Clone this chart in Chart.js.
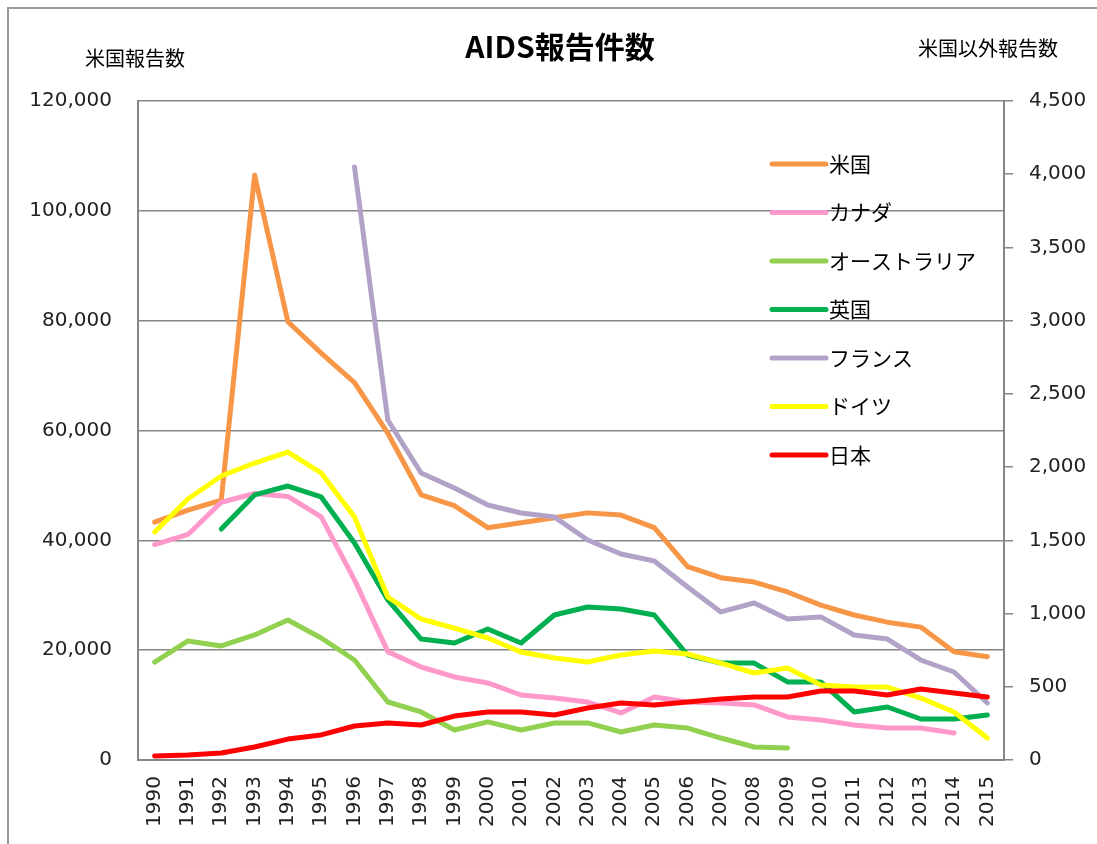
<!DOCTYPE html>
<html>
<head>
<meta charset="utf-8">
<script src="https://cdn.jsdelivr.net/npm/chart.js@4"></script>
<style>
  html, body { margin: 0; padding: 0; background: #fff; }
  #wrap { width: 1097px; height: 844px; position: relative; }
</style>
</head>
<body>
<div id="wrap"><canvas id="aidsChart"></canvas></div>
<script>
// years on the x axis
const years = ['1990','1991','1992','1993','1994','1995','1996','1997','1998','1999',
  '2000','2001','2002','2003','2004','2005','2006','2007','2008','2009',
  '2010','2011','2012','2013','2014','2015'];

// US reports (left axis)
const usa = [43300, 45500, 47300, 106500, 79800, 74100, 68700, 59500, 48300, 46300,
  42300, 43200, 44100, 45000, 44600, 42300, 35200, 33200, 32400, 30600,
  28200, 26400, 25100, 24200, 19700, 18800];

// other countries (right axis)
const canada = [1470, 1540, 1760, 1820, 1800, 1660, 1230, 740, 635, 567,
  526, 444, 423, 396, 321, 430, 396, 389, 376, 294,
  273, 239, 218, 218, 184, null];
const australia = [669, 813, 779, 854, 956, 833, 683, 396, 328, 205,
  260, 205, 253, 253, 191, 239, 218, 150, 89, 82,
  null, null, null, null, null, null];
const uk = [null, null, 1577, 1810, 1871, 1796, 1482, 1093, 826, 799,
  895, 799, 990, 1045, 1031, 990, 717, 662, 662, 533,
  533, 328, 362, 280, 280, 307];
const france = [null, null, null, null, null, null, 4049, 2322, 1960, 1857,
  1741, 1687, 1660, 1502, 1407, 1359, 1181, 1011, 1072, 963,
  977, 854, 826, 683, 601, 389];
const germany = [1557, 1782, 1939, 2028, 2103, 1960, 1659, 1113, 963, 901,
  833, 737, 697, 669, 717, 744, 724, 662, 594, 628,
  512, 498, 498, 423, 328, 150];
const japan = [27, 34, 48, 89, 143, 171, 232, 253, 239, 300,
  328, 328, 307, 355, 389, 376, 396, 417, 430, 430,
  471, 471, 444, 485, 458, 430];

const seriesLabels = ['米国', 'カナダ', 'オーストラリア', '英国', 'フランス', 'ドイツ', '日本'];
const seriesColors = ['#F79646', '#FF99CC', '#92D050', '#00B050', '#B3A2C7', '#FFFF00', '#FF0000'];
const seriesData = [usa, canada, australia, uk, france, germany, japan];

const gridGray = '#868686';
const tickFont = { family: '"DejaVu Sans", Verdana, sans-serif', size: 20 };
const cjkFont = '"Noto Sans CJK JP", "Noto Sans", sans-serif';

const datasets = seriesData.map((d, i) => ({
  label: seriesLabels[i],
  data: d,
  yAxisID: i === 0 ? 'yLeft' : 'yRight',
  borderColor: seriesColors[i],
  backgroundColor: seriesColors[i],
  borderWidth: 5,
  pointRadius: 0,
  pointHoverRadius: 0,
  tension: 0,
  borderCapStyle: 'round',
  borderJoinStyle: 'round',
  spanGaps: false,
  order: seriesData.length - i   // later series on top, like the original
}));

// frame + titles + legend drawn on the canvas
const decorations = {
  id: 'decorations',
  beforeDraw(chart) {
    const ctx = chart.ctx;
    ctx.save();
    ctx.fillStyle = '#fff';
    ctx.fillRect(0, 0, chart.width, chart.height);
    ctx.strokeStyle = '#9a9a9a';
    ctx.lineWidth = 2;
    ctx.beginPath();
    ctx.moveTo(8, chart.height + 5);
    ctx.lineTo(8, 8);
    ctx.lineTo(chart.width + 5, 8);
    ctx.stroke();
    ctx.restore();
  },
  afterDraw(chart) {
    const ctx = chart.ctx;
    ctx.save();
    ctx.fillStyle = '#000';
    ctx.textBaseline = 'middle';
    ctx.textAlign = 'center';
    ctx.font = 'bold 30px ' + cjkFont;
    ctx.fillText('AIDS報告件数', 560, 47);
    ctx.font = '20px ' + cjkFont;
    ctx.fillText('米国報告数', 135, 58);
    ctx.fillText('米国以外報告数', 988, 48);

    // legend inside plot
    ctx.textAlign = 'left';
    ctx.font = '21px ' + cjkFont;
    chart.data.datasets.forEach((ds, i) => {
      const y = 164 + i * 48.5;
      ctx.strokeStyle = ds.borderColor;
      ctx.lineWidth = 5;
      ctx.lineCap = 'round';
      ctx.beginPath();
      ctx.moveTo(772, y);
      ctx.lineTo(826, y);
      ctx.stroke();
      ctx.fillStyle = '#000';
      ctx.fillText(ds.label, 829, y);
    });
    ctx.restore();
  }
};

new Chart(document.getElementById('aidsChart'), {
  type: 'line',
  data: { labels: years, datasets: datasets },
  options: {
    responsive: true,
    maintainAspectRatio: false,
    animation: false,
    layout: { padding: { top: 101, left: 0, right: 0, bottom: 0 } },
    plugins: {
      legend: { display: false },
      title: { display: false },
      tooltip: { enabled: false }
    },
    scales: {
      x: {
        offset: true,
        grid: { display: false, drawTicks: false },
        border: { display: true, color: gridGray, width: 2 },
        ticks: {
          autoSkip: false,
          maxRotation: 90,
          minRotation: 90,
          padding: 16,
          color: '#222',
          font: tickFont
        },
        afterFit(scale) { scale.height = 84; }
      },
      yLeft: {
        position: 'left',
        min: 0,
        max: 120000,
        grid: { color: gridGray, lineWidth: 1.5, drawTicks: false },
        border: { color: gridGray, width: 2 },
        ticks: {
          stepSize: 20000,
          padding: 26,
          color: '#222',
          font: tickFont,
          callback: v => v.toLocaleString('en-US')
        },
        afterFit(scale) { scale.width = 138; }
      },
      yRight: {
        position: 'right',
        min: 0,
        max: 4500,
        grid: { drawOnChartArea: false, color: gridGray, lineWidth: 1.5, tickLength: 9 },
        border: { color: gridGray, width: 2 },
        ticks: {
          stepSize: 500,
          padding: 16,
          color: '#222',
          font: tickFont,
          callback: v => v.toLocaleString('en-US')
        },
        afterFit(scale) { scale.width = 93; }
      }
    }
  },
  plugins: [decorations]
});
</script>
</body>
</html>
